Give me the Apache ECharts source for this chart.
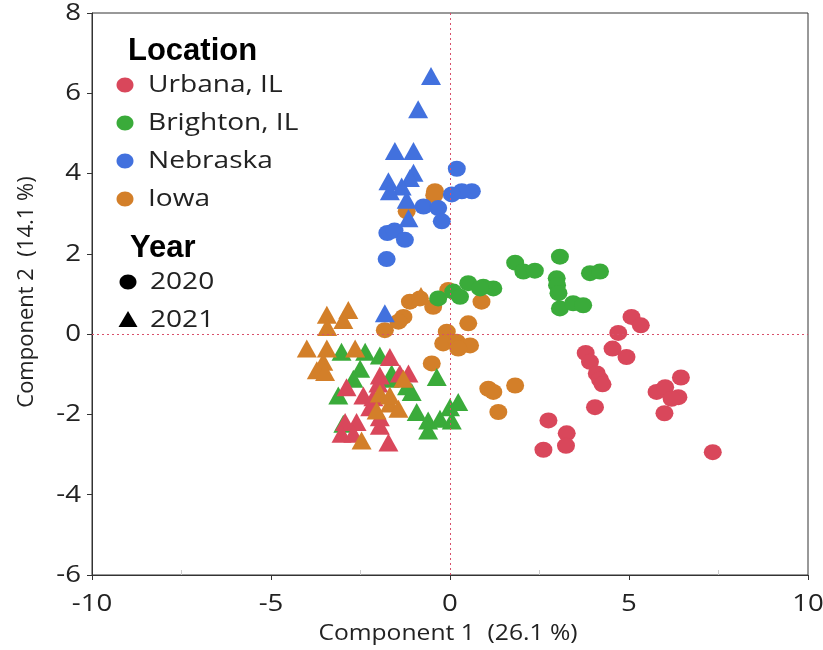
<!DOCTYPE html>
<html>
<head>
<meta charset="utf-8">
<script src="https://cdn.jsdelivr.net/npm/echarts@6/dist/echarts.min.js"></script>
<style>
  html, body { margin: 0; padding: 0; background: #fff; }
  #chart { width: 823px; height: 650px; }
</style>
</head>
<body>
<div id="chart"></div>
<script>
// PCA scores, [Component 1, Component 2]
const urbana2020 = [[5.07,0.43],[5.33,0.22],[4.70,0.03],[4.54,-0.36],[4.93,-0.57],[3.79,-0.47],[3.91,-0.69],[4.10,-0.98],[4.19,-1.13],[4.26,-1.25],[4.05,-1.82],[2.75,-2.15],[3.26,-2.47],[3.24,-2.78],[2.61,-2.88],[6.45,-1.08],[5.77,-1.44],[6.01,-1.32],[6.38,-1.57],[6.19,-1.61],[5.99,-1.97],[7.34,-2.94]];
const brighton2020 = [[1.82,1.78],[2.05,1.56],[2.37,1.58],[3.07,1.93],[2.98,1.39],[2.99,1.22],[3.03,1.02],[3.07,0.64],[3.44,0.77],[3.72,0.72],[3.91,1.52],[4.19,1.56],[1.21,1.14],[0.93,1.18],[-0.33,0.89],[0.09,1.06],[0.28,0.93],[0.51,1.27],[0.84,1.14]];
const nebraska2020 = [[0.19,4.12],[0.61,3.56],[0.33,3.56],[0.05,3.48],[-0.74,3.18],[-0.33,3.14],[-0.23,2.81],[-1.75,2.52],[-1.55,2.58],[-1.26,2.35],[-1.77,1.87]];
const iowa2020 = [[-1.12,0.81],[-0.84,0.89],[-1.30,0.43],[-1.44,0.31],[-1.82,0.10],[-0.47,0.68],[-0.05,1.10],[0.88,0.81],[0.51,0.27],[-0.09,0.06],[-0.19,-0.23],[0.19,-0.19],[0.56,-0.28],[0.23,-0.36],[-0.51,-0.73],[1.07,-1.36],[1.21,-1.44],[1.82,-1.28],[1.35,-1.94],[-0.42,3.56],[-0.44,3.46],[-1.21,3.06]];
const urbana2021 = [[-1.68,-0.57],[-1.96,-1.03],[-2.89,-1.32],[-2.42,-1.53],[-2.23,-1.82],[-2.93,-2.19],[-2.61,-2.19],[-3.03,-2.48],[-2.70,-2.48],[-1.96,-2.28],[-1.72,-2.70],[-2.00,-1.23],[-1.40,-0.98],[-1.16,-0.98],[-1.96,-2.07],[-2.14,-1.57]];
const brighton2021 = [[-3.03,-0.44],[-2.37,-0.44],[-1.96,-0.53],[-2.51,-0.86],[-2.70,-1.11],[-3.12,-1.53],[-1.68,-1.11],[-2.98,-2.23],[-1.63,-0.98],[-0.37,-1.07],[-1.07,-1.44],[-0.93,-1.94],[-0.61,-2.15],[-0.61,-2.40],[-0.28,-2.11],[0.00,-1.82],[0.23,-1.69],[0.05,-2.15],[-1.20,-1.30]];
const nebraska2021 = [[-0.53,6.43],[-0.89,5.60],[-1.54,4.56],[-1.02,4.56],[-1.72,3.81],[-1.02,4.02],[-1.12,3.89],[-1.35,3.68],[-1.68,3.56],[-1.21,3.35],[-1.16,2.89],[-1.82,0.52]];
const iowa2021 = [[-3.44,0.48],[-2.84,0.60],[-2.98,0.35],[-3.43,0.18],[-4.00,-0.36],[-3.44,-0.36],[-2.65,-0.36],[-3.54,-0.69],[-3.72,-0.90],[-3.49,-0.94],[-1.96,-1.48],[-1.68,-1.73],[-2.05,-1.90],[-2.47,-2.65],[-1.44,-1.86],[-1.30,-1.11],[-1.68,-1.53],[-0.81,0.95]];

const locations = ['Urbana, IL', 'Brighton, IL', 'Nebraska', 'Iowa'];
const years = ['2020', '2021'];
const xTicks = [-10, -5, 0, 5, 10];
const yTicks = [-6, -4, -2, 0, 2, 4, 6, 8];
const xTitle = 'Component 1  (26.1 %)';
const yTitle = 'Component 2  (14.1 %)';

const colors = {
  'Urbana, IL': '#d9475b',
  'Brighton, IL': '#3aab3a',
  'Nebraska': '#4271de',
  'Iowa': '#d37f29'
};

const uiFont = '"Open Sans", "DejaVu Sans", sans-serif';
const boldFont = 'bold 31px "Liberation Sans", Arial, sans-serif';
const textColor = '#222';

function circles(name, data) {
  return {
    name: name, type: 'scatter', data: data,
    symbol: 'circle', symbolSize: [18, 16],
    itemStyle: { color: colors[name], opacity: 1 }
  };
}
function triangles(name, data) {
  return {
    name: name, type: 'scatter', data: data,
    symbol: 'triangle', symbolSize: [20, 18],
    itemStyle: { color: colors[name], opacity: 1 }
  };
}

const series = [
  circles('Iowa', iowa2020),
  circles('Brighton, IL', brighton2020),
  circles('Urbana, IL', urbana2020),
  circles('Nebraska', nebraska2020),
  triangles('Brighton, IL', brighton2021),
  triangles('Urbana, IL', urbana2021),
  triangles('Iowa', iowa2021),
  triangles('Nebraska', nebraska2021)
];

// dotted zero reference lines
series[0].markLine = {
  silent: true, symbol: 'none',
  label: { show: false },
  lineStyle: { color: '#d8506a', type: [2, 3], width: 1 },
  data: [{ xAxis: 0 }, { yAxis: 0 }]
};

const chart = echarts.init(document.getElementById('chart'), null, { renderer: 'canvas' });

chart.setOption({
  backgroundColor: '#fff',
  animation: false,
  grid: {
    left: 92, right: 15, top: 13, bottom: 75,
    show: true, borderColor: '#333', borderWidth: 1
  },
  xAxis: {
    type: 'value', min: xTicks[0], max: xTicks[xTicks.length - 1], interval: 5,
    axisLine: { show: true, onZero: false, lineStyle: { color: '#333' } },
    axisTick: { show: true, length: 5, lineStyle: { color: '#333' } },
    minorTick: { show: true, splitNumber: 2, length: -5, lineStyle: { color: '#ccc' } },
    splitLine: { show: false },
    axisLabel: { show: false }
  },
  yAxis: {
    type: 'value', min: yTicks[0], max: yTicks[yTicks.length - 1], interval: 2,
    axisLine: { show: true, onZero: false, lineStyle: { color: '#333' } },
    axisTick: { show: true, length: 5, lineStyle: { color: '#333' } },
    splitLine: { show: false },
    axisLabel: { show: false }
  },
  series: series
});

// Text is drawn slightly widened, so tick labels, titles and the legend
// are laid out as graphic text placed through the axis scales.
function label(text, x, y, opts) {
  const o = opts || {};
  return {
    type: 'text', x: x, y: y,
    scaleX: o.scaleX || 1, rotation: o.rotation || 0,
    silent: true,
    style: {
      text: text, font: o.font || ('24px ' + uiFont), fill: o.fill || textColor,
      align: o.align || 'left', textAlign: o.align || 'left',
      verticalAlign: 'middle', textVerticalAlign: 'middle'
    }
  };
}

const gridRect = (function () {
  const a = chart.convertToPixel({ gridIndex: 0 }, [xTicks[0], yTicks[0]]);
  const b = chart.convertToPixel({ gridIndex: 0 }, [xTicks[xTicks.length - 1], yTicks[yTicks.length - 1]]);
  return { left: a[0], bottom: a[1], right: b[0], top: b[1] };
})();

const graphics = [];
xTicks.forEach(function (v) {
  const p = chart.convertToPixel({ gridIndex: 0 }, [v, yTicks[0]]);
  graphics.push(label(String(v), p[0], p[1] + 29, { align: 'center', scaleX: 1.15 }));
});
yTicks.forEach(function (v) {
  const p = chart.convertToPixel({ gridIndex: 0 }, [xTicks[0], v]);
  graphics.push(label(String(v), p[0] - 11, p[1], { align: 'right', scaleX: 1.15 }));
});
graphics.push(label(xTitle, (gridRect.left + gridRect.right) / 2 - 2, gridRect.bottom + 59,
  { align: 'center', scaleX: 1.12, font: '22px ' + uiFont }));
graphics.push(label(yTitle, 27, (gridRect.top + gridRect.bottom) / 2 - 2,
  { align: 'center', rotation: Math.PI / 2, font: '22px ' + uiFont }));

// legend: Location
graphics.push(label('Location', 128, 51, { font: boldFont, fill: '#000' }));
const rowY = [85, 123, 161, 199];
locations.forEach(function (name, i) {
  graphics.push({
    type: 'ellipse', silent: true,
    shape: { cx: 125, cy: rowY[i], rx: 8.5, ry: 7.5 },
    style: { fill: colors[name] }
  });
  graphics.push(label(name, 148, rowY[i], { scaleX: 1.17 }));
});

// legend: Year
graphics.push(label('Year', 130, 248, { font: boldFont, fill: '#000' }));
graphics.push({
  type: 'ellipse', silent: true,
  shape: { cx: 128, cy: 282, rx: 8.5, ry: 7.5 }, style: { fill: '#000' }
});
graphics.push(label(years[0], 150, 282, { scaleX: 1.17 }));
graphics.push({
  type: 'polygon', silent: true,
  shape: { points: [[128, 311], [118.5, 327], [137.5, 327]] }, style: { fill: '#000' }
});
graphics.push(label(years[1], 150, 320, { scaleX: 1.17 }));

chart.setOption({ graphic: { elements: graphics } });
</script>
</body>
</html>
